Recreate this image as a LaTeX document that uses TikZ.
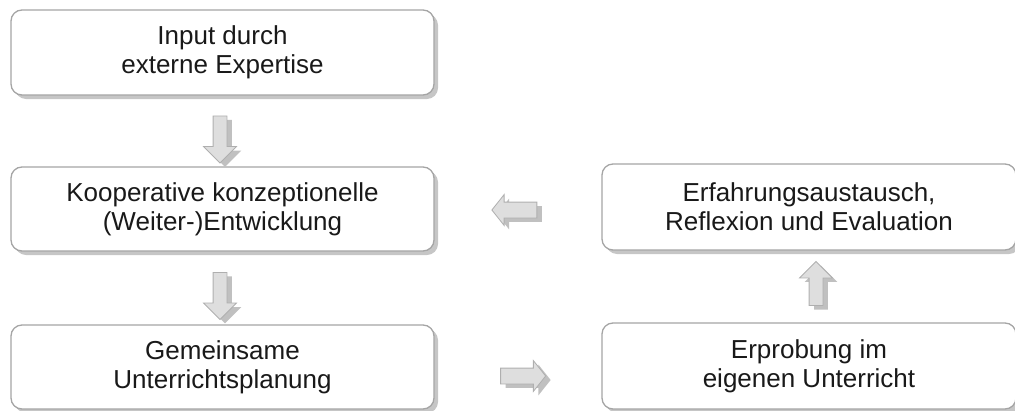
\documentclass[tikz,border=0pt]{standalone}
\usepackage{fontspec}
\setmainfont{Liberation Sans}
\usetikzlibrary{shapes.arrows,shadows}
\definecolor{boxline}{RGB}{165,165,165}
\definecolor{boxshadow}{RGB}{198,198,198}
\definecolor{arrfill}{RGB}{222,222,222}
\definecolor{arrline}{RGB}{175,175,175}
\definecolor{arrshadow}{RGB}{192,192,192}
\definecolor{txt}{RGB}{25,25,25}
\begin{document}
\begin{tikzpicture}[x=1pt,y=-1pt,
  stepbox/.style={draw=boxline, line width=1.3pt, fill=white, rounded corners=11pt,
    minimum width=423pt, minimum height=85pt, align=center, text=txt, inner sep=0pt,
    font=\fontsize{26}{29}\selectfont,
    general shadow={shadow xshift=4pt, shadow yshift=-4pt, fill=boxshadow}},
  widebox/.style={stepbox, minimum width=414pt},
  blockarrow/.style={single arrow, draw=arrline, fill=arrfill, line width=0.8pt,
    single arrow head indent=0pt,
    general shadow={shadow xshift=5pt, shadow yshift=-4pt, fill=arrshadow}},
  varrow/.style={blockarrow, inner sep=6.5pt, minimum height=47pt, minimum width=32pt,
    single arrow head extend=9.5pt, single arrow tip angle=90},
  harrow/.style={blockarrow, inner sep=7.5pt, minimum height=45pt, minimum width=30pt,
    single arrow head extend=7.5pt, single arrow tip angle=103}
]
\useasboundingbox (0,0) rectangle (1015,410);

\node[stepbox] (b1) at (222.5,52.5) {Input durch\\externe Expertise};
\node[stepbox, minimum height=84pt] (b2) at (222.5,209) {Kooperative konzeptionelle\\(Weiter-)Entwicklung};
\node[stepbox, minimum height=84pt] (b3) at (222.5,367) {Gemeinsame\\Unterrichtsplanung};
\node[widebox, minimum height=86pt] (b4) at (809,207) {Erfahrungsaustausch,\\Reflexion und Evaluation};
\node[widebox, minimum height=86pt] (b5) at (809,366) {Erprobung im\\eigenen Unterricht};

\node[varrow, shape border rotate=270] (a1) at (220,136) {};
\node[varrow, shape border rotate=270] (a2) at (220,292.5) {};
\node[harrow, shape border rotate=180] (a3) at (517.5,210) {};
\node[harrow] (a4) at (520,376) {};
\node[varrow, minimum height=44pt, shape border rotate=90] (a5) at (816,287) {};
\end{tikzpicture}
\end{document}
